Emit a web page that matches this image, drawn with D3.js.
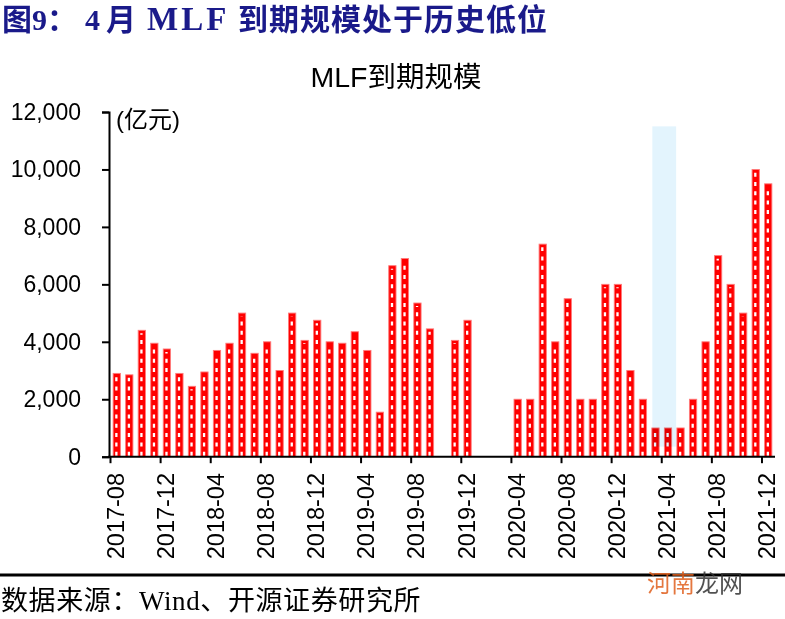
<!DOCTYPE html>
<html>
<head>
<meta charset="utf-8">
<script src="https://cdn.jsdelivr.net/npm/d3@7"></script>
<style>
  html, body { margin: 0; padding: 0; background: #fff; }
  svg { display: block; }
</style>
</head>
<body>
<svg id="chart" width="785" height="619"></svg>
<script>
// ---- Data ----
const months = [
  "2017-08","2017-09","2017-10","2017-11","2017-12",
  "2018-01","2018-02","2018-03","2018-04","2018-05","2018-06","2018-07","2018-08","2018-09","2018-10","2018-11","2018-12",
  "2019-01","2019-02","2019-03","2019-04","2019-05","2019-06","2019-07","2019-08","2019-09","2019-10","2019-11","2019-12",
  "2020-01","2020-02","2020-03","2020-04","2020-05","2020-06","2020-07","2020-08","2020-09","2020-10","2020-11","2020-12",
  "2021-01","2021-02","2021-03","2021-04","2021-05","2021-06","2021-07","2021-08","2021-09","2021-10","2021-11","2021-12"
];
const mlfMaturity = [
  2900, 2850, 4400, 3950, 3750,
  2900, 2450, 2950, 3700, 3950, 5000, 3600, 4000, 3000, 5000, 4050, 4750,
  4000, 3950, 4350, 3700, 1550, 6650, 6900, 5350, 4450, null, 4050, 4750,
  null, null, null, 2000, 2000, 7400, 4000, 5500, 2000, 2000, 6000, 6000,
  3000, 2000, 1000, 1000, 1000, 2000, 4000, 7000, 6000, 5000, 10000, 9500
];
const yTicks = [0, 2000, 4000, 6000, 8000, 10000, 12000];
const xTickLabels = ["2017-08","2017-12","2018-04","2018-08","2018-12","2019-04","2019-08","2019-12","2020-04","2020-08","2020-12","2021-04","2021-08","2021-12"];
const highlightMonths = ["2021-03", "2021-04"];
const highlightRange = [350, 11500];

const headerParts = ["图9：", "4", "月", "MLF", "到期规模处于历史低位"];
const chartTitle = "MLF到期规模";
const unitLabel = "(亿元)";
const sourceText = "数据来源：Wind、开源证券研究所";

// ---- Layout ----
const svg = d3.select("#chart");
const x = d3.scaleBand().domain(months).range([110.5, 774.5]).paddingInner(0).paddingOuter(0);
const y = d3.scaleLinear().domain([0, 12000]).range([456.7, 112]);
const bw = x.bandwidth();
const barW = bw * 0.58;
const sans = "'Liberation Sans', Arial, 'Noto Sans CJK SC', sans-serif";
const serif = "'Liberation Serif', 'Times New Roman', 'Noto Sans CJK SC', serif";

// Header
const headerX = [2, 85, 106, 147, 238];
const header = svg.append("text")
  .attr("y", 30)
  .attr("font-family", serif)
  .attr("font-weight", "bold")
  .attr("font-size", 30)
  .attr("fill", "#1a1a8a");
headerParts.forEach((p, i) => {
  const t = header.append("tspan").attr("x", headerX[i]).text(p);
  if (p === "MLF") t.attr("font-size", 33).attr("letter-spacing", 3);
  if (i === 4) t.attr("letter-spacing", 1);
});

// Chart title
svg.append("text")
  .attr("x", 396).attr("y", 87)
  .attr("text-anchor", "middle")
  .attr("font-family", sans)
  .attr("font-size", 28.5)
  .attr("fill", "#000")
  .text(chartTitle);

// Bars
const data = months.map((m, i) => ({ m, v: mlfMaturity[i] })).filter(d => d.v != null);
const barG = svg.append("g");
barG.selectAll("rect.bar").data(data).enter().append("rect")
  .attr("class", "bar")
  .attr("x", d => x(d.m) + (bw - barW) / 2)
  .attr("y", d => y(d.v))
  .attr("width", barW)
  .attr("height", d => y(0) - y(d.v))
  .attr("fill", "#ff0000")
  .attr("stroke", "#ff7a7a")
  .attr("stroke-width", 0.9);
barG.selectAll("line.dash").data(data).enter().append("line")
  .attr("class", "dash")
  .attr("x1", d => x(d.m) + bw / 2 - 0.4)
  .attr("x2", d => x(d.m) + bw / 2 - 0.4)
  .attr("y1", d => y(0) - 1)
  .attr("y2", d => y(d.v) + 3)
  .attr("stroke", "#fff")
  .attr("stroke-width", 2.3)
  .attr("stroke-dasharray", "4,5.3");

// Highlight band (drawn over bars, multiply blend)
svg.append("rect")
  .attr("x", x(highlightMonths[0]) + bw * 0.25)
  .attr("y", y(highlightRange[1]))
  .attr("width", x(highlightMonths[1]) + bw * 1.15 - (x(highlightMonths[0]) + bw * 0.25))
  .attr("height", y(highlightRange[0]) - y(highlightRange[1]))
  .attr("fill", "#e3f4fd")
  .style("mix-blend-mode", "multiply");

// Y axis
const yAxis = d3.axisLeft(y).tickValues(yTicks).tickSize(7).tickPadding(21).tickFormat(d3.format(","));
const yG = svg.append("g").attr("transform", "translate(109,0)").call(yAxis);
yG.select(".domain").attr("stroke", "#000").attr("stroke-width", 2);
yG.selectAll(".tick line").attr("stroke", "#000").attr("stroke-width", 2);
yG.selectAll(".tick text").attr("font-family", sans).attr("font-size", 23).attr("fill", "#000");

// X axis
svg.append("line")
  .attr("x1", 108).attr("x2", 775)
  .attr("y1", y(0)).attr("y2", y(0))
  .attr("stroke", "#000").attr("stroke-width", 2);
const xG = svg.append("g");
xG.selectAll("line.xt").data(xTickLabels).enter().append("line")
  .attr("class", "xt")
  .attr("x1", d => x(d)).attr("x2", d => x(d))
  .attr("y1", y(0)).attr("y2", y(0) + 6.5)
  .attr("stroke", "#000").attr("stroke-width", 2);
xG.selectAll("text.xl").data(xTickLabels).enter().append("text")
  .attr("class", "xl")
  .attr("transform", d => `translate(${x(d) + bw / 2 - 1.5},473) rotate(-90)`)
  .attr("text-anchor", "end")
  .attr("dy", "0.36em")
  .attr("font-family", sans)
  .attr("font-size", 23.5)
  .attr("fill", "#000")
  .text(d => d);

// Unit label
svg.append("text")
  .attr("x", 116).attr("y", 128)
  .attr("font-family", sans)
  .attr("font-size", 24)
  .attr("fill", "#000")
  .text(unitLabel);

// Bottom rule
svg.append("line")
  .attr("x1", 0).attr("x2", 785)
  .attr("y1", 575).attr("y2", 575)
  .attr("stroke", "#000").attr("stroke-width", 3);

// Source
svg.append("text")
  .attr("x", 1).attr("y", 610)
  .attr("font-family", serif)
  .attr("font-size", 27)
  .attr("letter-spacing", 0.6)
  .attr("fill", "#000")
  .text(sourceText);

// Watermark
const wm = svg.append("text")
  .attr("x", 647).attr("y", 592)
  .attr("font-family", "'Noto Sans CJK SC', sans-serif")
  .attr("font-size", 24)
  .attr("opacity", 0.85);
wm.append("tspan").attr("fill", "#e0601e").text("河南");
wm.append("tspan").attr("fill", "#333").text("龙网");
</script>
</body>
</html>
